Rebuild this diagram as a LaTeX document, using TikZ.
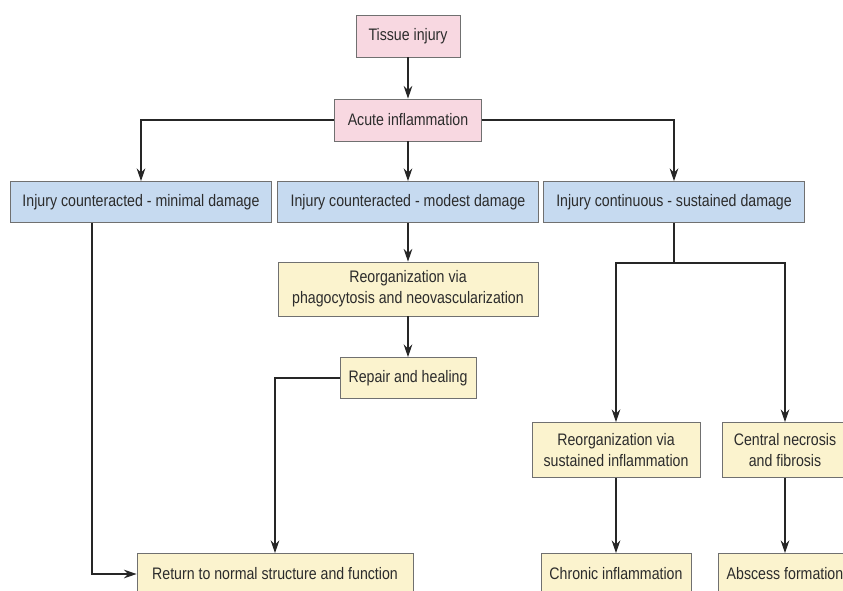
\documentclass[tikz,border=0pt]{standalone}
\usepackage{fontspec}
\setmainfont{Liberation Sans}[FakeStretch=0.85]
\usepackage{xcolor}
\usepackage{tikz}
\usetikzlibrary{positioning,arrows.meta}
\definecolor{injurypink}{HTML}{F8D8E1}
\definecolor{damageblue}{HTML}{C6DAF0}
\definecolor{outcomeyellow}{HTML}{FBF3CE}
\definecolor{boxline}{HTML}{707070}
\definecolor{inktext}{HTML}{2C2C2C}

\begin{document}
\begin{tikzpicture}[auto,every node/.style={on grid},
    box/.style={draw=boxline,line width=0.6pt,align=center,text=inktext,
      font=\fontsize{12.5}{15.75}\selectfont,inner sep=0pt},
    pinkbox/.style={box,fill=injurypink,minimum height=31.5pt},
    bluebox/.style={box,fill=damageblue,minimum width=195.75pt,minimum height=30.75pt},
    yellowbox/.style={box,fill=outcomeyellow,minimum height=30.75pt},
    link/.style={draw=black!85,line width=0.9pt},
    arrow/.style={link,-{Stealth[length=9.5pt,width=6.5pt]}}]
    \clip (-306pt,27pt) rectangle (326.25pt,-415.5pt);
    \node[pinkbox,minimum width=78pt] (tissue) {Tissue injury};
    \node[pinkbox,minimum width=110.25pt,below=63pt of tissue] (acute) {Acute inflammation};
    \node[bluebox,below=61.5pt of acute] (modest) {Injury counteracted - modest damage};
    \node[bluebox,left=200.25pt of modest] (minimal) {Injury counteracted - minimal damage};
    \node[bluebox,right=199.5pt of modest] (sustained) {Injury continuous - sustained damage};
    \node[yellowbox,minimum width=195pt,minimum height=40.5pt,below=65.25pt of modest] (phago) {Reorganization via\\phagocytosis and neovascularization};
    \node[yellowbox,minimum width=102pt,below=66.75pt of phago] (repair) {Repair and healing};
    \node[yellowbox,minimum width=207pt,below left=147pt and 99.75pt of repair] (normal) {Return to normal structure and function};
    \node[yellowbox,minimum width=126pt,minimum height=41.25pt,below left=186pt and 43.5pt of sustained] (reorgsus) {Reorganization via\\sustained inflammation};
    \node[yellowbox,minimum width=94.5pt,minimum height=41.25pt,right=126.75pt of reorgsus] (necrosis) {Central necrosis\\and fibrosis};
    \node[yellowbox,minimum width=112.5pt,below=93pt of reorgsus] (chronic) {Chronic inflammation};
    \node[yellowbox,minimum width=100.5pt,below=93pt of necrosis] (abscess) {Abscess formation};
    \coordinate[below=30pt of sustained.south] (split);

    \draw[arrow] (tissue) -- (acute);
    \draw[arrow] (acute.west) -| (minimal.north);
    \draw[arrow] (acute) -- (modest);
    \draw[arrow] (acute.east) -| (sustained.north);
    \draw[arrow] ([xshift=-36.75pt]minimal.south) |- (normal.west);
    \draw[arrow] (modest) -- (phago);
    \draw[arrow] (phago) -- (repair);
    \draw[arrow] (repair.west) -| (normal.north);
    \draw[link] (sustained.south) -- (split);
    \draw[arrow] (split) -| (reorgsus.north);
    \draw[arrow] (split) -| (necrosis.north);
    \draw[arrow] (reorgsus) -- (chronic);
    \draw[arrow] (necrosis) -- (abscess);
  \end{tikzpicture}
\end{document}
